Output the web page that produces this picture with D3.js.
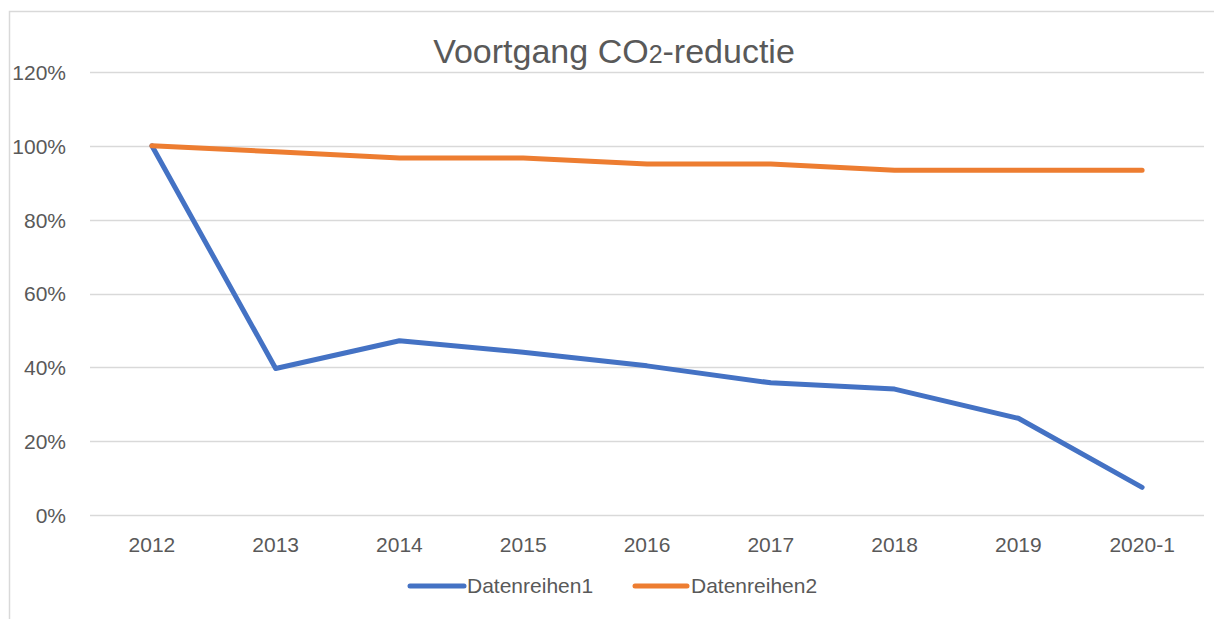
<!DOCTYPE html>
<html><head><meta charset="utf-8">
<script src="https://cdn.jsdelivr.net/npm/d3@7"></script>
<style>
html,body{margin:0;padding:0;background:#fff;}
svg text{font-family:"Liberation Sans Narrow","Liberation Sans",Arial,sans-serif;fill:#595959;}
</style></head>
<body>
<svg id="c" width="1214" height="619"></svg>
<script>
const categories = ["2012","2013","2014","2015","2016","2017","2018","2019","2020-1"];
const series1 = [100, 39.7, 47.2, 44.1, 40.4, 35.8, 34.1, 26.2, 7.5];
const series2 = [100, 98.4, 96.7, 96.7, 95.1, 95.1, 93.4, 93.4, 93.4];
const yTicks = [0, 20, 40, 60, 80, 100, 120];
const seriesNames = ["Datenreihen1", "Datenreihen2"];
const colors = ["#4472C4", "#ED7D31"];
const titleParts = ["Voortgang CO", "2", "-reductie"];

const svg = d3.select("#c");
svg.append("rect").attr("x",9.5).attr("y",11.5).attr("width",1300).attr("height",700)
  .attr("fill","none").attr("stroke","#d9d9d9").attr("stroke-width",1.5);

const x = d3.scaleBand().domain(categories).range([90,1204]);
const y = d3.scaleLinear().domain([0,120]).range([515,72]);

svg.append("g").selectAll("line").data(yTicks).join("line")
  .attr("x1",90).attr("x2",1204)
  .attr("y1",d=>Math.round(y(d))+0.5).attr("y2",d=>Math.round(y(d))+0.5)
  .attr("stroke","#d9d9d9").attr("stroke-width",1.5);

const yAxis = d3.axisLeft(y).tickValues(yTicks).tickSize(0).tickPadding(0).tickFormat(d=>d+"%");
const yg = svg.append("g").attr("transform","translate(66,0)").call(yAxis);
yg.select(".domain").remove();
yg.selectAll("text").attr("font-size",21).style("font-family",null).attr("dy","0.35em");

const xAxis = d3.axisBottom(x).tickSize(0).tickPadding(0);
const xg = svg.append("g").attr("transform","translate(0,537)").call(xAxis);
xg.select(".domain").remove();
xg.selectAll("text").attr("font-size",21).style("font-family",null).attr("dy","0.71em");

const line = d3.line().x((d,i)=>x(categories[i])+x.bandwidth()/2).y(d=>y(d));
[series1, series2].forEach((s,k)=>{
  svg.append("path").datum(s).attr("d",line).attr("fill","none")
    .attr("stroke",colors[k]).attr("stroke-width",5)
    .attr("stroke-linejoin","round").attr("stroke-linecap","round");
});

const t = svg.append("text").attr("x",614).attr("y",63).attr("text-anchor","middle")
  .attr("font-size",34);
t.append("tspan").text(titleParts[0]);
t.append("tspan").attr("font-size",25).text(titleParts[1]);
t.append("tspan").text(titleParts[2]);

const leg = [{x0:410,x1:464,tx:467},{x0:635,x1:687,tx:691}];
leg.forEach((l,k)=>{
  svg.append("line").attr("x1",l.x0).attr("x2",l.x1).attr("y1",586).attr("y2",586)
    .attr("stroke",colors[k]).attr("stroke-width",5).attr("stroke-linecap","round");
  svg.append("text").attr("x",l.tx).attr("y",586).attr("dy","0.35em")
    .attr("font-size",21).text(seriesNames[k]);
});
</script>
</body></html>
